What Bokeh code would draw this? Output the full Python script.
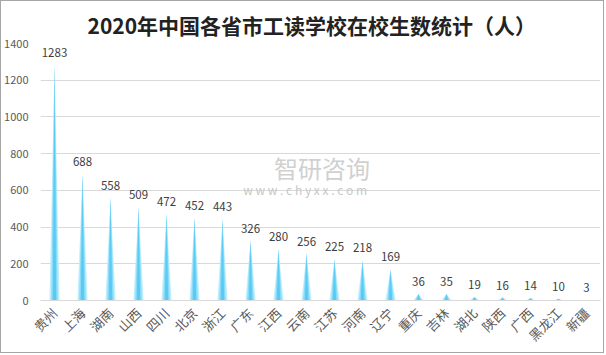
import math
from bokeh.plotting import figure
from bokeh.models import FixedTicker, Range1d, ColumnDataSource
from bokeh.core.properties import value
from bokeh.embed import file_html
from bokeh.resources import INLINE

provinces = ["贵州", "上海", "湖南", "山西", "四川", "北京", "浙江", "广东", "江西", "云南",
             "江苏", "河南", "辽宁", "重庆", "吉林", "湖北", "陕西", "广西", "黑龙江", "新疆"]
students = [1283, 688, 558, 509, 472, 452, 443, 326, 280, 256,
            225, 218, 169, 36, 35, 19, 16, 14, 10, 3]
y_ticks = [0, 200, 400, 600, 800, 1000, 1200, 1400]
title_text = "2020年中国各省市工读学校在校生数统计（人）"

FONT = "Noto Sans CJK SC"

p = figure(width=604, height=353, output_backend="svg", toolbar_location=None,
           x_range=Range1d(-0.5, len(provinces) - 0.5), y_range=Range1d(0, 1400),
           min_border_left=37, min_border_right=5, min_border_top=42, min_border_bottom=53)
p.styles = {"border": "1px solid #a6a6a6"}
p.outline_line_color = None
p.background_fill_color = "white"
p.border_fill_color = "white"

p.title.text = title_text
p.title.align = "left"
p.title.text_font = FONT
p.title.text_font_size = "21px"
p.title.text_font_style = "bold"
p.title.text_color = "#222222"
p.title.offset = 47
p.title.standoff = 8

xs = list(range(len(provinces)))

def spikes(half, color):
    pxs = [[x - half, x, x + half] for x in xs]
    pys = [[0, v, 0] for v in students]
    p.patches(pxs, pys, fill_color=color, line_color=None)

spikes(0.18, "#c0eefc")
spikes(0.12, "#88dbf8")
spikes(0.06, "#5ac9f3")

src = ColumnDataSource(dict(x=xs, y=students, t=[str(v) for v in students]))
p.text(x="x", y="y", text="t", source=src, text_align="center", text_baseline="bottom",
       y_offset=-8, text_font=value(FONT), text_font_size="11.5px", text_color="#404040")

# watermark
p.text(x=[9.55], y=[727], text=["智研咨询"], text_align="center", text_baseline="middle",
       text_font=value(FONT), text_font_size="24px", text_color="#d0d0d0")
p.text(x=[8.95], y=[602], text=["w w w . c h y x x . c o m"], text_align="center",
       text_baseline="middle", text_font=value(FONT), text_font_size="12px", text_color="#c8c8c8")

p.xgrid.grid_line_color = None
p.ygrid.grid_line_color = "#d9d9d9"
p.ygrid.ticker = FixedTicker(ticks=y_ticks)

p.yaxis.ticker = FixedTicker(ticks=y_ticks)
p.yaxis.axis_line_color = None
p.yaxis.major_tick_line_color = None
p.yaxis.minor_tick_line_color = None
p.yaxis.major_label_text_font = FONT
p.yaxis.major_label_text_font_size = "11px"
p.yaxis.major_label_text_color = "#595959"
p.yaxis.major_label_standoff = 6

p.xaxis.ticker = FixedTicker(ticks=xs)
p.xaxis.major_label_overrides = {i: c for i, c in enumerate(provinces)}
p.xaxis.major_label_orientation = math.pi / 4
p.xaxis.axis_line_color = "#d9d9d9"
p.xaxis.major_tick_line_color = None
p.xaxis.minor_tick_line_color = None
p.xaxis.major_label_text_font = FONT
p.xaxis.major_label_text_font_size = "13px"
p.xaxis.major_label_text_color = "#595959"
p.xaxis.major_label_standoff = 4

open("out.html", "w").write(file_html(p, INLINE))
